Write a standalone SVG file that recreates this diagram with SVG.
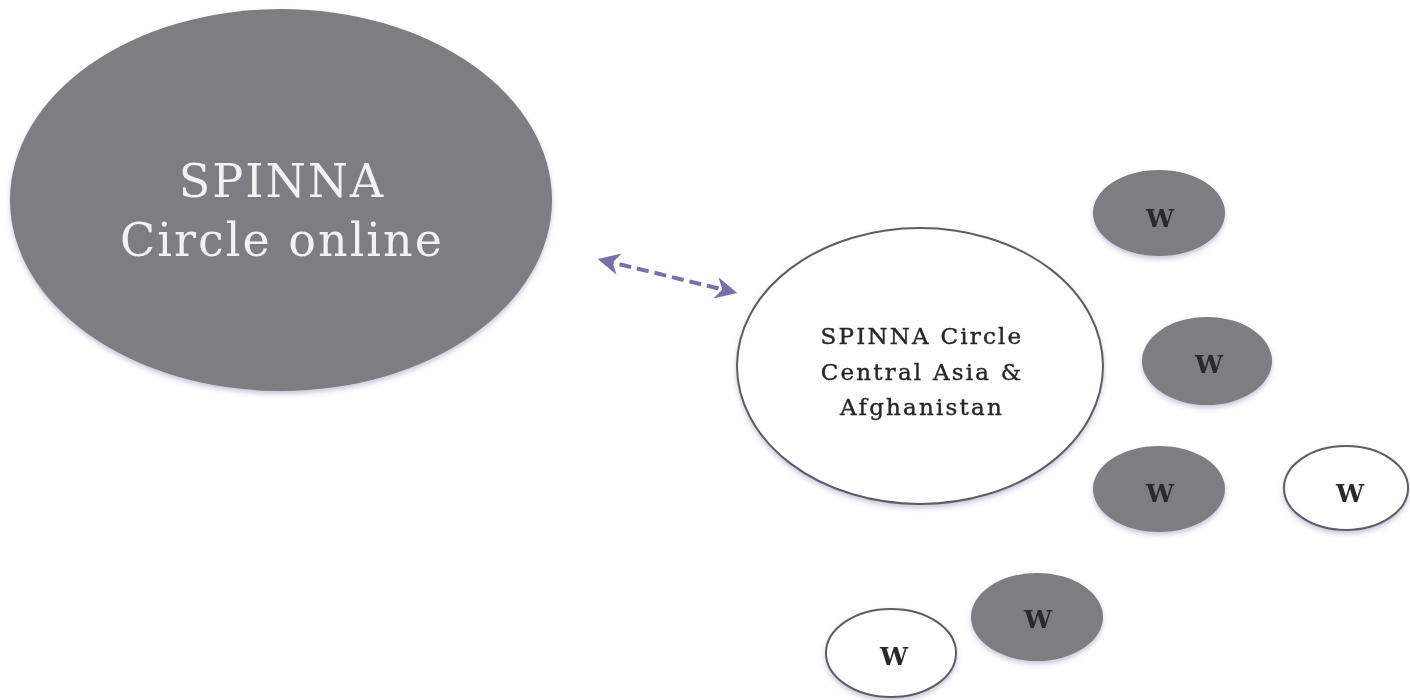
<svg xmlns="http://www.w3.org/2000/svg" width="1410" height="700" viewBox="0 0 1410 700">
<style>
.dark{fill:#7e7d81;}
.light{fill:#ffffff;stroke:#5e5d62;stroke-width:2;}
.w{font-family:"DejaVu Serif","Liberation Serif",serif;font-weight:bold;font-size:25px;fill:#2a2a2a;text-anchor:middle;}
.big{font-family:"DejaVu Serif","Liberation Serif",serif;font-size:46px;letter-spacing:2px;fill:#f2f2f2;text-anchor:middle;}
.mid{font-family:"DejaVu Serif","Liberation Serif",serif;font-size:23px;letter-spacing:2.2px;fill:#262626;stroke:#262626;stroke-width:0.4;text-anchor:middle;}
.conn{stroke:#7a6fa8;stroke-width:4;stroke-dasharray:12 6;fill:none;}
</style>
<defs>
<filter id="sh" x="-10%" y="-10%" width="120%" height="125%">
<feGaussianBlur in="SourceAlpha" stdDeviation="2.5"/>
<feOffset dx="0" dy="3" result="b"/>
<feFlood flood-color="#6a5f9a" flood-opacity="0.35"/>
<feComposite in2="b" operator="in"/>
<feMerge><feMergeNode/><feMergeNode in="SourceGraphic"/></feMerge>
</filter>
<marker id="ah" viewBox="0 0 10 10" refX="8" refY="5" markerWidth="5.5" markerHeight="5.5" orient="auto-start-reverse" markerUnits="strokeWidth">
<path d="M0,0 L10,5 L0,10 L3,5 Z" fill="#7a6fa8"/>
</marker>
</defs>
<rect width="1410" height="700" fill="#ffffff"/>
<g id="connectors">
<line class="conn" x1="602" y1="260" x2="733" y2="292" marker-start="url(#ah)" marker-end="url(#ah)"/>
</g>
<g id="online" filter="url(#sh)">
<ellipse class="dark" cx="281" cy="200" rx="271" ry="191"/>
<text class="big" x="282" y="197">SPINNA</text>
<text class="big" x="282" y="256">Circle online</text>
</g>
<g id="central" filter="url(#sh)">
<ellipse class="light" cx="920" cy="366" rx="183" ry="138"/>
<text class="mid" x="922" y="344">SPINNA Circle</text>
<text class="mid" x="922" y="380">Central Asia &amp;</text>
<text class="mid" x="922" y="415">Afghanistan</text>
</g>
<g id="w1" filter="url(#sh)">
<ellipse class="dark" cx="1159" cy="213" rx="66" ry="43"/>
<text class="w" x="1160" y="227">W</text>
</g>
<g id="w2" filter="url(#sh)">
<ellipse class="dark" cx="1207" cy="361" rx="65" ry="44"/>
<text class="w" x="1209" y="373">W</text>
</g>
<g id="w3" filter="url(#sh)">
<ellipse class="dark" cx="1159" cy="489" rx="66" ry="43"/>
<text class="w" x="1160" y="502">W</text>
</g>
<g id="w4" filter="url(#sh)">
<ellipse class="light" cx="1346" cy="488" rx="62" ry="42"/>
<text class="w" x="1350" y="502">W</text>
</g>
<g id="w5" filter="url(#sh)">
<ellipse class="dark" cx="1037" cy="617" rx="66" ry="44"/>
<text class="w" x="1038" y="628">W</text>
</g>
<g id="w6" filter="url(#sh)">
<ellipse class="light" cx="891" cy="653" rx="65" ry="44"/>
<text class="w" x="894" y="665">W</text>
</g>
</svg>
